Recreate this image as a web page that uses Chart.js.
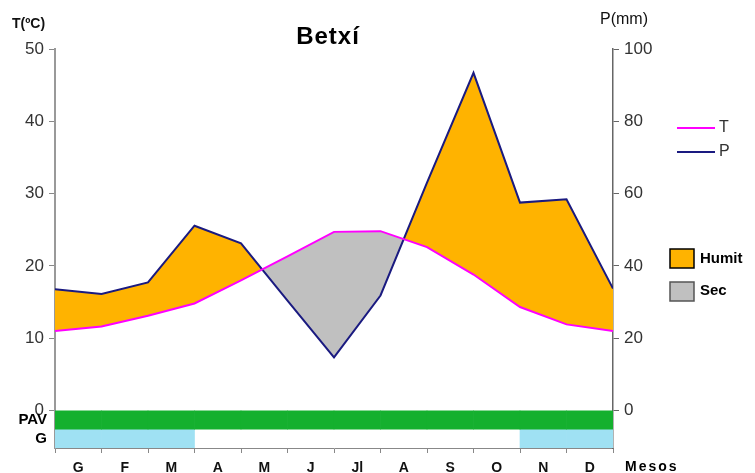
<!DOCTYPE html>
<html>
<head>
<meta charset="utf-8">
<script src="https://cdn.jsdelivr.net/npm/chart.js@4.4.1/dist/chart.umd.min.js"></script>
<style>
  html, body { margin: 0; padding: 0; background: #fff; }
  #wrap { width: 755px; height: 473px; }
</style>
</head>
<body>
<div id="wrap"><canvas id="climaChart" width="755" height="473"></canvas></div>
<script>
// Climate diagram for Betxí (T left axis, P right axis = 2x T)
const months = ['G', 'F', 'M', 'A', 'M', 'J', 'Jl', 'A', 'S', 'O', 'N', 'D'];

// points sit on month boundaries, the last one closes the year (January again)
const tempPoints = [11.0, 11.6, 13.1, 14.8, 18.0, 21.3, 24.7, 24.8, 22.6, 18.8, 14.3, 11.9, 11.0];
const precipPoints = [33.5, 32.2, 35.4, 51.1, 46.2, 30.4, 14.7, 31.8, 63.0, 93.4, 57.5, 58.4, 33.7];

// PAV = active vegetation period, G = frost months (1 = yes)
const pavMonths = [1, 1, 1, 1, 1, 1, 1, 1, 1, 1, 1, 1];
const frostMonths = [1, 1, 1, 0, 0, 0, 0, 0, 0, 0, 1, 1];

const tempTicks = [0, 10, 20, 30, 40, 50];
const precipTicks = [0, 20, 40, 60, 80, 100];

const FONT = "'Liberation Sans', Arial, sans-serif";
const humitColor = '#FFB300';
const secColor = '#C0C0C0';

// band limits below zero on the T scale
const pavBand = [-2.6, 0];
const frostBand = [-5.2, -2.6];

const textPlugin = {
    id: 'textPlugin',
    afterDraw(chart) {
        const c = chart.ctx;
        c.save();
        c.textBaseline = 'middle';

        // title
        c.fillStyle = '#000';
        c.font = 'bold 24px ' + FONT;
        c.letterSpacing = '1px';
        c.textAlign = 'center';
        c.fillText('Betxí', 328, 37);
        c.letterSpacing = '0px';

        // axis titles
        c.font = 'bold 14px ' + FONT;
        c.textAlign = 'left';
        c.fillStyle = '#111';
        c.fillText('T(ºC)', 12, 24);
        c.font = '16px ' + FONT;
        c.fillText('P(mm)', 600, 20);

        // band labels
        const y = chart.scales.y;
        c.font = 'bold 15px ' + FONT;
        c.textAlign = 'right';
        c.fillStyle = '#000';
        c.fillText('PAV', 47, y.getPixelForValue((pavBand[0] + pavBand[1]) / 2));
        c.fillText('G', 47, y.getPixelForValue((frostBand[0] + frostBand[1]) / 2));

        // Mesos
        c.textAlign = 'left';
        c.font = 'bold 14px ' + FONT;
        c.letterSpacing = '2px';
        c.fillText('Mesos', 625, 467);
        c.letterSpacing = '0px';

        // legend lines
        c.lineWidth = 2;
        c.strokeStyle = '#FF00FF';
        c.beginPath(); c.moveTo(677, 128); c.lineTo(715, 128); c.stroke();
        c.strokeStyle = '#1A1A80';
        c.beginPath(); c.moveTo(677, 152); c.lineTo(715, 152); c.stroke();
        c.font = '16px ' + FONT;
        c.fillStyle = '#333';
        c.fillText('T', 719, 128);
        c.fillText('P', 719, 152);

        // legend boxes
        c.lineWidth = 1.5;
        c.strokeStyle = '#000';
        c.fillStyle = humitColor;
        c.fillRect(670, 249, 24, 19);
        c.strokeRect(670, 249, 24, 19);
        c.fillStyle = secColor;
        c.fillRect(670, 282, 24, 19);
        c.strokeStyle = '#555';
        c.strokeRect(670, 282, 24, 19);
        c.fillStyle = '#000';
        c.font = 'bold 15px ' + FONT;
        c.fillText('Humit', 700, 259);
        c.fillText('Sec', 700, 291);
        c.restore();
    }
};

const ctx = document.getElementById('climaChart').getContext('2d');

const climaChart = new Chart(ctx, {
    type: 'line',
    data: {
        labels: months,
        datasets: [
            {
                label: 'T',
                data: tempPoints.map((v, i) => ({ x: i, y: v })),
                xAxisID: 'x',
                yAxisID: 'y',
                borderColor: '#FF00FF',
                borderWidth: 2,
                pointRadius: 0,
                fill: false,
                tension: 0
            },
            {
                label: 'P',
                data: precipPoints.map((v, i) => ({ x: i, y: v })),
                xAxisID: 'x',
                yAxisID: 'y2',
                borderColor: '#1A1A80',
                borderWidth: 2,
                pointRadius: 0,
                tension: 0,
                fill: { target: 0, above: humitColor, below: secColor }
            },
            {
                type: 'bar',
                label: 'PAV',
                data: pavMonths.map(m => m ? pavBand : null),
                xAxisID: 'xm',
                yAxisID: 'y',
                backgroundColor: '#14B02E',
                borderWidth: 0,
                barPercentage: 1,
                categoryPercentage: 1,
                grouped: false
            },
            {
                type: 'bar',
                label: 'G',
                data: frostMonths.map(m => m ? frostBand : null),
                xAxisID: 'xm',
                yAxisID: 'y',
                backgroundColor: '#9FE1F3',
                borderWidth: 0,
                barPercentage: 1,
                categoryPercentage: 1,
                grouped: false
            }
        ]
    },
    options: {
        responsive: false,
        animation: false,
        layout: { padding: { left: 0, right: 0, top: 49, bottom: 0 } },
        plugins: {
            legend: { display: false },
            title: { display: false },
            tooltip: { enabled: false }
        },
        scales: {
            x: {
                type: 'linear',
                min: 0,
                max: 12,
                display: false
            },
            xm: {
                type: 'category',
                position: 'bottom',
                offset: true,
                grid: { offset: true, drawOnChartArea: false, tickLength: 5, color: '#888' },
                border: { color: '#888', width: 1 },
                ticks: {
                    font: { family: FONT, size: 14, weight: 'bold' },
                    color: '#111',
                    padding: 7,
                    maxRotation: 0,
                    autoSkip: false
                },
                afterFit: s => { s.height = 25; }
            },
            y: {
                position: 'left',
                min: frostBand[0],
                max: 50,
                afterBuildTicks: s => { s.ticks = tempTicks.map(v => ({ value: v })); },
                grid: { drawOnChartArea: false, tickLength: 6, color: '#888' },
                border: { color: '#999', width: 2 },
                ticks: { font: { family: FONT, size: 17 }, color: '#333', padding: 5 },
                afterFit: s => { s.width = 55; }
            },
            y2: {
                position: 'right',
                min: frostBand[0] * 2,
                max: 100,
                afterBuildTicks: s => { s.ticks = precipTicks.map(v => ({ value: v })); },
                grid: { drawOnChartArea: false, tickLength: 6, color: '#666' },
                border: { color: '#666', width: 1.5 },
                ticks: { font: { family: FONT, size: 17 }, color: '#333', padding: 5 },
                afterFit: s => { s.width = 142; }
            }
        }
    },
    plugins: [textPlugin]
});
</script>
</body>
</html>
